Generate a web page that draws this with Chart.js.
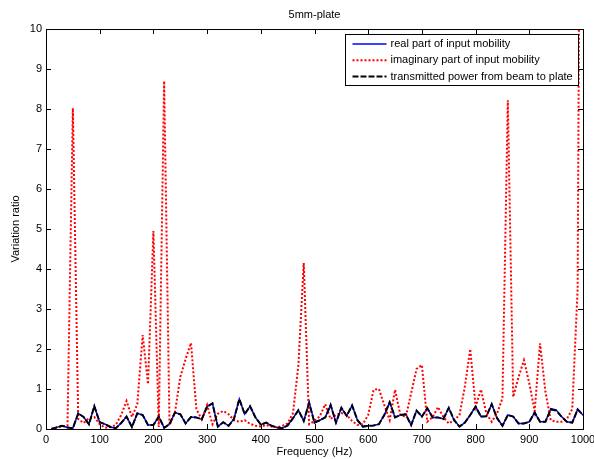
<!DOCTYPE html>
<html>
<head>
<meta charset="utf-8">
<script src="https://cdn.jsdelivr.net/npm/chart.js@4.4.1/dist/chart.umd.min.js"></script>
<style>
  html, body { margin: 0; padding: 0; background: #fff; }
  #wrap { width: 594px; height: 459px; position: relative; }
</style>
</head>
<body>
<div id="wrap"><canvas id="c" width="594" height="459"></canvas></div>
<script>
const chartTitle = "5mm-plate";
const xTitle = "Frequency (Hz)";
const yTitle = "Variation ratio";
const seriesLabels = ["real part of input mobility", "imaginary part of input mobility", "transmitted power from beam to plate"];

const freqs = [10,20,30,40,50,60,70,80,90,100,110,120,130,140,150,160,170,180,190,200,
  210,220,230,240,250,260,270,280,290,300,310,320,330,340,350,360,370,380,390,400,
  410,420,430,440,450,460,470,480,490,500,510,520,530,540,550,560,570,580,590,600,
  610,620,630,640,650,660,670,680,690,700,710,720,730,740,750,760,770,780,790,800,
  810,820,830,840,850,860,870,880,890,900,910,920,930,940,950,960,970,980,990,1000];

const realPart = [0.0,0.04,0.08,0.04,0.02,0.39,0.3,0.12,0.57,0.17,0.12,0.05,0.02,0.15,0.31,0.05,0.39,0.35,0.1,0.1,
  0.31,0.03,0.12,0.41,0.37,0.14,0.3,0.29,0.24,0.56,0.64,0.06,0.17,0.08,0.25,0.75,0.37,0.57,0.29,0.11,
  0.16,0.08,0.04,0.02,0.09,0.27,0.47,0.2,0.68,0.16,0.22,0.29,0.6,0.16,0.53,0.33,0.59,0.22,0.06,0.08,
  0.09,0.12,0.35,0.67,0.29,0.35,0.38,0.1,0.46,0.31,0.52,0.29,0.29,0.25,0.53,0.22,0.06,0.16,0.35,0.56,
  0.31,0.32,0.62,0.27,0.08,0.35,0.31,0.14,0.14,0.18,0.41,0.18,0.18,0.51,0.48,0.31,0.18,0.16,0.49,0.35];

const imagPart = [0.0,0.04,0.07,0.08,8.02,0.25,0.15,0.27,0.3,0.12,0.03,0.05,0.1,0.35,0.7,0.3,0.62,2.35,1.12,4.95,
  0.05,8.7,0.1,0.4,1.3,1.75,2.15,0.5,0.24,0.6,0.12,0.38,0.45,0.37,0.22,0.18,0.22,0.13,0.08,0.06,
  0.1,0.06,0.04,0.08,0.14,0.4,1.6,4.15,0.12,0.2,0.32,0.62,0.25,0.35,0.4,0.35,0.2,0.1,0.12,0.35,
  0.98,1.0,0.6,0.22,0.98,0.35,0.3,0.9,1.5,1.6,0.18,0.3,0.55,0.3,0.14,0.22,0.35,1.06,2.0,0.56,
  0.99,0.39,0.18,0.39,0.77,8.22,0.8,1.3,1.72,1.14,0.45,2.14,0.93,0.22,0.18,0.18,0.25,0.5,3.5,30];

const transPower = [0.0,0.04,0.08,0.04,0.02,0.39,0.3,0.12,0.57,0.17,0.12,0.05,0.02,0.15,0.31,0.05,0.39,0.35,0.1,0.1,
  0.31,0.03,0.12,0.41,0.37,0.14,0.3,0.29,0.24,0.56,0.64,0.06,0.17,0.08,0.25,0.75,0.37,0.57,0.29,0.11,
  0.16,0.08,0.04,0.02,0.09,0.27,0.47,0.2,0.64,0.16,0.22,0.29,0.6,0.16,0.53,0.33,0.59,0.22,0.06,0.08,
  0.09,0.12,0.35,0.67,0.29,0.35,0.36,0.1,0.46,0.31,0.52,0.29,0.29,0.25,0.53,0.22,0.06,0.16,0.35,0.56,
  0.31,0.32,0.62,0.27,0.08,0.35,0.31,0.14,0.14,0.18,0.41,0.18,0.18,0.49,0.46,0.31,0.18,0.16,0.49,0.35];

const xTicks = [0,100,200,300,400,500,600,700,800,900,1000];
const yTicks = [0,1,2,3,4,5,6,7,8,9,10];

const FONT = "'Liberation Sans', Arial, sans-serif";

function pts(ys) { return freqs.map((f, i) => ({ x: f, y: ys[i] })); }

const framePlugin = {
  id: 'frame',
  afterDatasetsDraw(chart) {
    const { ctx, chartArea: a, scales } = chart;
    ctx.save();
    ctx.strokeStyle = '#000';
    ctx.lineWidth = 1;
    const L = 5;
    ctx.beginPath();
    xTicks.forEach(v => {
      const x = Math.round(scales.x.getPixelForValue(v)) + 0.5;
      ctx.moveTo(x, a.bottom); ctx.lineTo(x, a.bottom - L);
      ctx.moveTo(x, a.top); ctx.lineTo(x, a.top + L);
    });
    yTicks.forEach(v => {
      const y = Math.round(scales.y.getPixelForValue(v)) + 0.5;
      ctx.moveTo(a.left, y); ctx.lineTo(a.left + L, y);
      ctx.moveTo(a.right, y); ctx.lineTo(a.right - L, y);
    });
    ctx.stroke();
    ctx.strokeRect(Math.round(a.left) + 0.5, Math.round(a.top) + 0.5, Math.round(a.right - a.left), Math.round(a.bottom - a.top));
    // title
    ctx.fillStyle = '#000';
    ctx.font = '11px ' + FONT;
    ctx.textAlign = 'center';
    ctx.textBaseline = 'middle';
    ctx.fillText(chartTitle, (a.left + a.right) / 2, a.top - 14);
    // legend
    const ds = chart.data.datasets;
    const order = [0, 1, 2];
    let maxW = 0;
    order.forEach(i => { maxW = Math.max(maxW, ctx.measureText(ds[i].label).width); });
    const boxR = Math.round(a.right) - 4.5;
    const boxT = Math.round(a.top) + 5.5;
    const boxW = Math.round(45 + maxW + 6);
    const boxH = 51;
    const boxL = boxR - boxW;
    ctx.fillStyle = '#fff';
    ctx.fillRect(boxL, boxT, boxW, boxH);
    ctx.strokeStyle = '#000';
    ctx.lineWidth = 1;
    ctx.strokeRect(boxL, boxT, boxW, boxH);
    order.forEach((i, k) => {
      const y = boxT + 9.5 + k * 16.3;
      ctx.save();
      ctx.strokeStyle = ds[i].borderColor;
      ctx.lineWidth = ds[i].borderWidth;
      ctx.setLineDash(ds[i].borderDash || []);
      ctx.beginPath();
      ctx.moveTo(boxL + 7, y);
      ctx.lineTo(boxL + 41, y);
      ctx.stroke();
      ctx.restore();
      ctx.fillStyle = '#000';
      ctx.textAlign = 'left';
      ctx.textBaseline = 'middle';
      ctx.fillText(ds[i].label, boxL + 45, y);
    });
    ctx.restore();
  }
};

new Chart(document.getElementById('c'), {
  type: 'line',
  data: {
    datasets: [
      { label: seriesLabels[0], data: pts(realPart), borderColor: '#0000ff', borderWidth: 1.5, pointRadius: 0, tension: 0, fill: false, order: 2 },
      { label: seriesLabels[1], data: pts(imagPart), borderColor: '#ff0000', borderWidth: 2, borderDash: [2, 2], pointRadius: 0, tension: 0, fill: false, order: 1 },
      { label: seriesLabels[2], data: pts(transPower), borderColor: '#000000', borderWidth: 2, borderDash: [6, 2], pointRadius: 0, tension: 0, fill: false, order: 0 }
    ]
  },
  options: {
    responsive: false,
    animation: false,
    devicePixelRatio: 1,
    layout: { padding: { top: 29, right: 11, left: 0, bottom: 0 } },
    plugins: { legend: { display: false }, tooltip: { enabled: false }, title: { display: false } },
    scales: {
      x: {
        type: 'linear', min: 0, max: 1000,
        grid: { display: false, drawTicks: false },
        border: { display: false },
        afterBuildTicks: s => { s.ticks = xTicks.map(v => ({ value: v })); },
        ticks: { color: '#000', font: { family: FONT, size: 11 }, padding: 4, maxRotation: 0, autoSkip: false, callback: v => String(v) },
        title: { display: true, text: xTitle, color: '#000', font: { family: FONT, size: 11 }, padding: { top: 0, bottom: 0 } },
        afterFit: s => { s.height = 30; s.paddingLeft = 0; s.paddingRight = 0; }
      },
      y: {
        type: 'linear', min: 0, max: 10,
        grid: { display: false, drawTicks: false },
        border: { display: false },
        afterBuildTicks: s => { s.ticks = yTicks.map(v => ({ value: v })); },
        ticks: { color: '#000', font: { family: FONT, size: 11 }, padding: 4, autoSkip: false, callback: v => String(v) },
        title: { display: true, text: yTitle, color: '#000', font: { family: FONT, size: 11 }, padding: { top: 9, bottom: 0 } },
        afterFit: s => { s.width = 46; s.paddingTop = 0; s.paddingBottom = 0; }
      }
    }
  },
  plugins: [framePlugin]
});
</script>
</body>
</html>
